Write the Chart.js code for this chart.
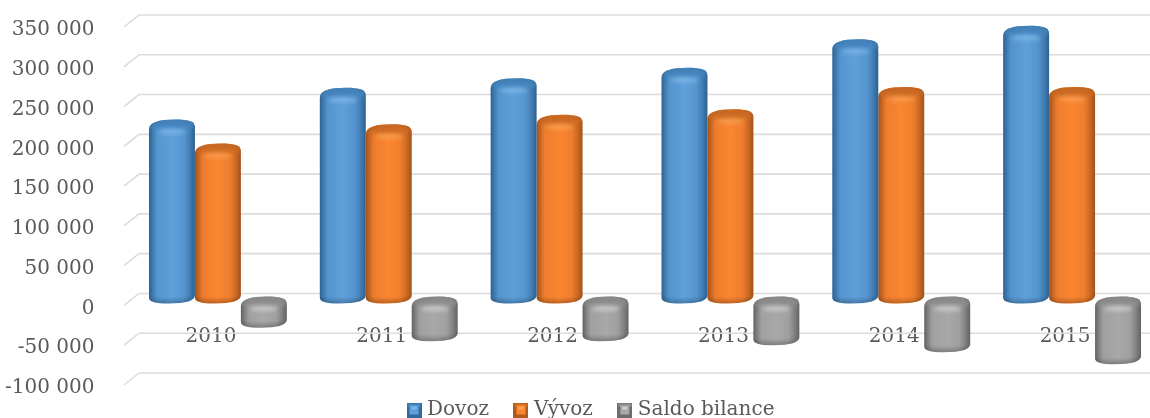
<!DOCTYPE html>
<html>
<head>
<meta charset="utf-8">
<style>
  html, body { margin: 0; padding: 0; background: #fff; overflow: hidden; }
  #wrap { width: 1150px; height: 418px; overflow: hidden; }
  canvas { display: block; filter: blur(0.45px); }
</style>
<script src="https://cdn.jsdelivr.net/npm/chart.js@4/dist/chart.umd.min.js"></script>
</head>
<body>
<div id="wrap"><canvas id="chart" width="1160" height="418"></canvas></div>
<script>
// ── Data ──
const years = ['2010', '2011', '2012', '2013', '2014', '2015'];
const dovoz = [218000, 258000, 270000, 283000, 319000, 336000];
const vyvoz = [188000, 212000, 224000, 231000, 259000, 259000];
const saldo = [-26000, -43000, -43000, -48000, -57000, -72000];
const yTicks = [-100000, -50000, 0, 50000, 100000, 150000, 200000, 250000, 300000, 350000];
const seriesNames = ['Dovoz', 'Vývoz', 'Saldo bilance'];

const FONT = '"DejaVu Serif", "Liberation Serif", serif';
const TEXT = '#595959';
const GRID = '#dcdcdc';
const DEPTH_X = 15, DEPTH_Y = 12;   // fake 3D wall offset
const LABEL_LIFT = 3;                // digits sit this far above the scale pixel
const RY = 7;                        // cylinder cap height

// dark edge / main / light / cap colours per series
const TONES = {
  Dovoz: { edge: '#336a9e', main: '#5595cf', light: '#5fa0da', cap: '#4686c0', glow: '#80b7e7' },
  'Vývoz': { edge: '#b05a1c', main: '#ee7d2e', light: '#fb8630', cap: '#cf6c24', glow: '#fb9f52' },
  'Saldo bilance': { edge: '#6c6c6c', main: '#a0a0a0', light: '#a8a8a8', cap: '#8e8e8e', glow: '#cdcdcd' }
};

// ── Cylinder drawn in place of the flat bar ──
function bodyPath(ctx, x0, x1, yT, yB) {
  const w = x1 - x0, cx = (x0 + x1) / 2;
  ctx.beginPath();
  ctx.moveTo(x0, yT + 3);
  ctx.bezierCurveTo(x0, yT - 4, x0 + w * 0.2, yT - RY, cx + 3, yT - RY);
  ctx.bezierCurveTo(x1 - w * 0.12, yT - RY, x1, yT - 5, x1, yT + 1);
  ctx.lineTo(x1, yB - 1);
  ctx.bezierCurveTo(x1, yB + 4, x1 - w * 0.2, yB + RY, cx - 3, yB + RY);
  ctx.bezierCurveTo(x0 + w * 0.12, yB + RY, x0, yB + 5, x0, yB + 1);
  ctx.closePath();
}

Chart.BarElement.prototype.draw = function (ctx) {
  const tone = TONES[this.options.backgroundColor] || TONES.Dovoz;
  const w = this.width, x0 = this.x - w / 2, x1 = this.x + w / 2, cx = this.x;
  const positive = this.y < this.base;
  const shift = -5.5 - LABEL_LIFT;
  const yTop = (positive ? this.y : this.base + 3.5) + shift;
  const yBot = (positive ? this.base - 3.5 : this.y) + shift;

  ctx.save();
  bodyPath(ctx, x0, x1, yTop, yBot);
  const g = ctx.createLinearGradient(x0, 0, x1, 0);
  g.addColorStop(0, tone.edge);
  g.addColorStop(0.18, tone.main);
  g.addColorStop(0.5, tone.light);
  g.addColorStop(0.76, tone.main);
  g.addColorStop(1, tone.edge);
  ctx.fillStyle = g;
  ctx.fill();
  ctx.save();
  ctx.clip();

  // cap: dark top face fading into a soft highlight
  ctx.filter = 'blur(2px)';
  ctx.fillStyle = tone.cap;
  ctx.beginPath();
  ctx.ellipse(cx, yTop - 2, w * 0.56, RY - 1, 0, 0, Math.PI * 2);
  ctx.fill();
  ctx.fillStyle = tone.glow;
  ctx.beginPath();
  ctx.ellipse(cx, yTop + 5, w * 0.3, 2.4, 0, 0, Math.PI * 2);
  ctx.fill();

  // soft darker rim all round, strongest at the bottom
  bodyPath(ctx, x0, x1, yTop, yBot);
  ctx.strokeStyle = 'rgba(0,0,0,0.14)';
  ctx.lineWidth = 3;
  ctx.stroke();
  ctx.filter = 'none';
  const rim = ctx.createLinearGradient(0, yBot, 0, yBot + RY);
  rim.addColorStop(0, 'rgba(0,0,0,0)');
  rim.addColorStop(1, 'rgba(0,0,0,0.18)');
  ctx.fillStyle = rim;
  ctx.fillRect(x0, yBot, w, RY);
  ctx.restore();
  ctx.restore();
};

// ── Back wall gridlines with the slanted stub towards the axis ──
const wallGrid = {
  id: 'wallGrid',
  beforeDatasetsDraw(chart) {
    const { ctx, scales: { y }, chartArea } = chart;
    ctx.save();
    ctx.strokeStyle = GRID;
    ctx.lineWidth = 1.6;
    yTicks.forEach(v => {
      const py = y.getPixelForValue(v) - LABEL_LIFT;
      ctx.beginPath();
      ctx.moveTo(chartArea.left - 8.5, py);
      ctx.lineTo(chartArea.left - 8.5 + DEPTH_X, py - DEPTH_Y);
      ctx.lineTo(chart.width, py - DEPTH_Y);
      ctx.stroke();
    });
    ctx.restore();
  }
};

// nudge the legend box, its padding also sets the item gap
const legendNudge = {
  id: 'legendNudge',
  afterLayout(chart) {
    const l = chart.legend;
    l.top -= 17;
    l.bottom -= 17;
    l.left += 14;
    l.right += 14;
  }
};

// small bevelled squares for the legend
function legendIcon(name) {
  const tone = TONES[name];
  const c = document.createElement('canvas');
  c.width = 15; c.height = 15;
  const x = c.getContext('2d');
  x.fillStyle = tone.edge;
  x.fillRect(0, 0, 15, 15);
  x.fillStyle = tone.cap;
  x.fillRect(1, 1, 13, 3);
  x.fillStyle = tone.light;
  x.fillRect(3, 3, 9, 9);
  x.fillStyle = tone.glow;
  x.fillRect(5, 4, 5, 3);
  return c;
}

function fmt(v) {
  return String(v).replace(/\B(?=(\d{3})+$)/g, ' ');
}

const seriesData = [dovoz, vyvoz, saldo];

new Chart(document.getElementById('chart'), {
  type: 'bar',
  data: {
    labels: years,
    datasets: seriesNames.map((name, i) => ({
      label: name,
      data: seriesData[i],
      backgroundColor: name,   // key into TONES, read by the cylinder draw
      categoryPercentage: 0.807,
      barPercentage: 1,
      clip: false
    }))
  },
  plugins: [wallGrid, legendNudge],
  options: {
    responsive: false,
    animation: false,
    layout: { padding: { top: 30, right: 2.5, bottom: -29, left: 0 } },
    plugins: {
      tooltip: { enabled: false },
      legend: {
        position: 'bottom',
        labels: {
          font: { family: FONT, size: 20 },
          color: TEXT,
          padding: 29,
          usePointStyle: true,
          pointStyleWidth: 6,
          generateLabels: () => seriesNames.map((name, i) => ({
            text: name,
            datasetIndex: i,
            pointStyle: legendIcon(name),
            fontColor: TEXT
          }))
        }
      }
    },
    scales: {
      x: {
        position: { y: 0 },
        grid: { display: false },
        border: { display: false },
        ticks: { font: { family: FONT, size: 20 }, color: TEXT, padding: 8, maxRotation: 0, labelOffset: -7 }
      },
      y: {
        min: -100000,
        max: 350000,
        afterFit(scale) {
          scale.width = 132.5;
          scale.paddingTop = 0;
          scale.paddingBottom = 0;
        },
        grid: { display: false },
        border: { display: false },
        afterBuildTicks(scale) { scale.ticks = yTicks.map(v => ({ value: v })); },
        ticks: { font: { family: FONT, size: 20 }, color: TEXT, padding: 30, callback: fmt }
      }
    }
  }
});
</script>
</body>
</html>
